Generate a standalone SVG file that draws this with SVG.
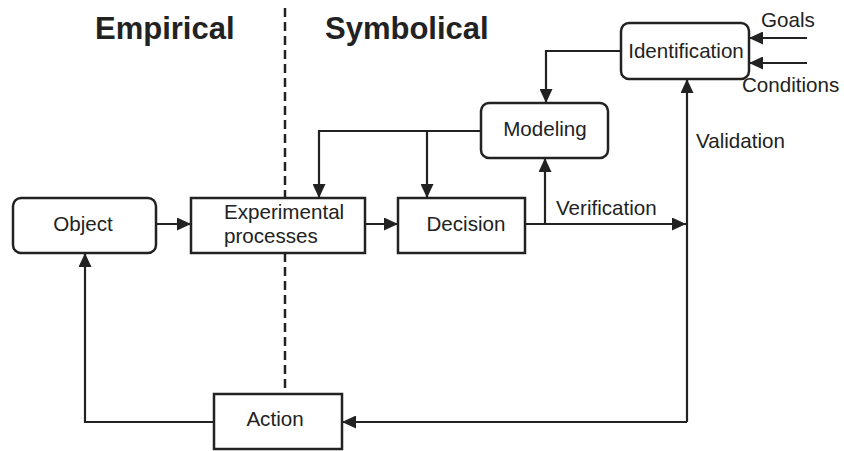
<svg xmlns="http://www.w3.org/2000/svg" width="844" height="451" viewBox="0 0 844 451">
<style>
.box{fill:#fff;stroke:#222;stroke-width:2.5}
.lbl{font-family:"Liberation Sans",Arial,sans-serif;font-size:20.6px;fill:#222}
.c{text-anchor:middle}
.title{font-family:"Liberation Sans",Arial,sans-serif;font-size:31px;font-weight:bold;fill:#222}
.edge{fill:none;stroke:#222;stroke-width:2.2}
.dash{fill:none;stroke:#222;stroke-width:2.5;stroke-dasharray:9 5}
</style>
<defs>
<marker id="ah" markerUnits="userSpaceOnUse" markerWidth="14" markerHeight="13" refX="14" refY="6.5" orient="auto">
<path d="M0,0 L14,6.5 L0,13 Z" fill="#222"/>
</marker>
</defs>
<g id="dashed">
<path class="dash" d="M285,8 V198"/>
<path class="dash" d="M285,253 V394"/>
</g>
<text class="title" x="95" y="39">Empirical</text>
<text class="title" x="325" y="39">Symbolical</text>
<g id="connectors">
<path class="edge" d="M156,224 H191" marker-end="url(#ah)"/>
<path class="edge" d="M365,224 H398" marker-end="url(#ah)"/>
<path class="edge" d="M525,224 H686" marker-end="url(#ah)"/>
<path class="edge" d="M545,224 V158" marker-end="url(#ah)"/>
<path class="edge" d="M687,422 V79" marker-end="url(#ah)"/>
<path class="edge" d="M687,422 H342" marker-end="url(#ah)"/>
<path class="edge" d="M214,422 H85 V253" marker-end="url(#ah)"/>
<path class="edge" d="M481,131 H319 V198" marker-end="url(#ah)"/>
<path class="edge" d="M427,131 V198" marker-end="url(#ah)"/>
<path class="edge" d="M621,51 H546 V103" marker-end="url(#ah)"/>
<path class="edge" d="M807,38 H749" marker-end="url(#ah)"/>
<path class="edge" d="M807,63 H749" marker-end="url(#ah)"/>
<text class="lbl" x="556" y="215">Verification</text>
<text class="lbl" x="696" y="148">Validation</text>
<text class="lbl" x="761" y="27">Goals</text>
<text class="lbl" x="742" y="92">Conditions</text>
</g>
<g id="object">
<rect class="box" x="13" y="198" width="143" height="55" rx="8"/>
<text class="lbl c" x="83" y="231">Object</text>
</g>
<g id="experimental">
<rect class="box" x="191" y="198" width="174" height="55"/>
<text class="lbl" x="224" y="219">Experimental</text>
<text class="lbl" x="224" y="243">processes</text>
</g>
<g id="decision">
<rect class="box" x="398" y="198" width="127" height="55"/>
<text class="lbl c" x="466" y="231">Decision</text>
</g>
<g id="modeling">
<rect class="box" x="481" y="103" width="127" height="55" rx="8"/>
<text class="lbl c" x="545" y="136">Modeling</text>
</g>
<g id="identification">
<rect class="box" x="621" y="23" width="128" height="56" rx="8"/>
<text class="lbl c" x="686" y="58">Identification</text>
</g>
<g id="action">
<rect class="box" x="214" y="394" width="128" height="55"/>
<text class="lbl c" x="275" y="426">Action</text>
</g>
</svg>
